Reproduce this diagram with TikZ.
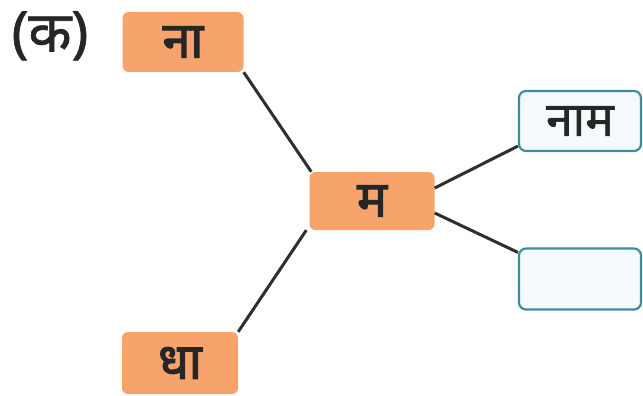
\documentclass[tikz,border=0pt]{standalone}
\usepackage{fontspec}
\newfontfamily\deva[Script=Devanagari]{Noto Sans}
\newfontfamily\devab[Script=Devanagari,FakeBold=2.5]{Noto Sans}
\newfontfamily\devam[Script=Devanagari,FakeBold=1.2]{Noto Sans}
\definecolor{orfill}{HTML}{F6A46C}
\definecolor{tealb}{HTML}{3A8E9E}
\definecolor{palefill}{HTML}{F5FAFC}
\definecolor{linec}{HTML}{2E2E2E}
\begin{document}
\begin{tikzpicture}[x=1pt,y=-1pt,
  obox/.style={rectangle, rounded corners=6pt, fill=orfill, inner sep=0pt, font=\devab\fontsize{50}{54}\selectfont, text=black!85},
  tbox/.style={rectangle, rounded corners=7pt, draw=tealb, line width=2.2pt, fill=palefill, inner sep=0pt, font=\devam\fontsize{48}{52}\selectfont, text=black!85},
  conn/.style={draw=linec, line width=3pt}]
\useasboundingbox (0,0) rectangle (643,396);
\node[font=\devam\fontsize{56}{60}\selectfont, text=black!85] (lbl) at (50,36) {(क)};
\node[obox, minimum width=121pt, minimum height=60pt] (na) at (183,42) {ना};
\node[obox, minimum width=125pt, minimum height=58pt] (ma) at (372,201) {म};
\node[obox, minimum width=116pt, minimum height=62pt] (dha) at (180,363) {धा};
\node[tbox, minimum width=122pt, minimum height=60pt] (naam) at (580,121) {नाम};
\node[tbox, minimum width=122pt, minimum height=61pt] (empty) at (580,279) {};
\draw[conn] (na.south east) -- ([xshift=2pt]ma.north west);
\draw[conn] ([xshift=-3pt]ma.south west) -- (dha.north east);
\draw[conn] ([yshift=13pt]ma.east) -- ([yshift=6pt]naam.south west);
\draw[conn] ([yshift=-12pt]ma.east) -- ([yshift=-5pt]empty.north west);
\end{tikzpicture}
\end{document}
